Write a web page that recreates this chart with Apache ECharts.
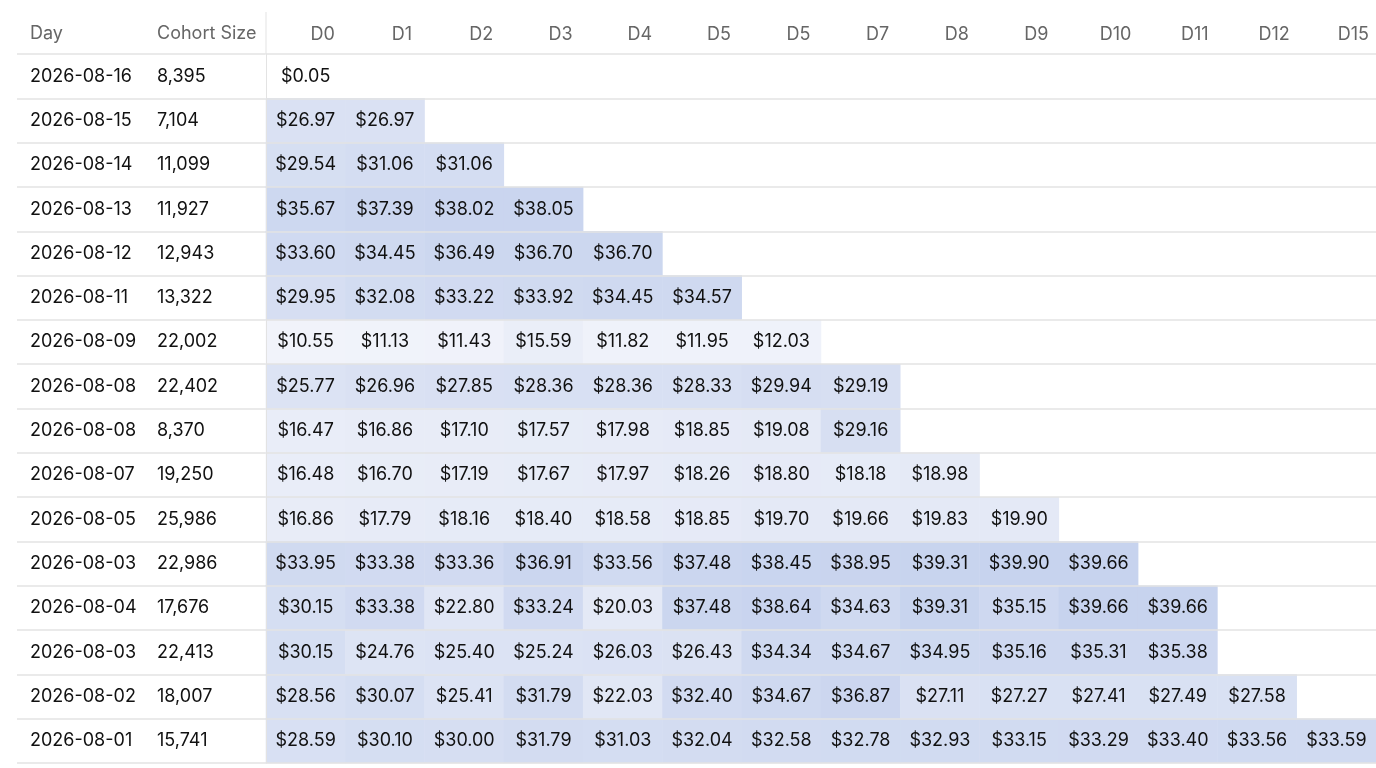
<!DOCTYPE html>
<html>
<head>
<meta charset="utf-8">
<script src="https://cdn.jsdelivr.net/npm/echarts@6/dist/echarts.min.js"></script>
<style>
  html, body { margin: 0; padding: 0; background: #fff; }
  #main { width: 1376px; height: 768px; }
</style>
</head>
<body>
<div id="main"></div>
<script>
var days = ['2026-08-16', '2026-08-15', '2026-08-14', '2026-08-13', '2026-08-12', '2026-08-11',
    '2026-08-09', '2026-08-08', '2026-08-08', '2026-08-07', '2026-08-05', '2026-08-03',
    '2026-08-04', '2026-08-03', '2026-08-02', '2026-08-01'];
var cohortSizes = ['8,395', '7,104', '11,099', '11,927', '12,943', '13,322', '22,002', '22,402',
    '8,370', '19,250', '25,986', '22,986', '17,676', '22,413', '18,007', '15,741'];
var dayCols = ['D0', 'D1', 'D2', 'D3', 'D4', 'D5', 'D5', 'D7', 'D8', 'D9', 'D10', 'D11', 'D12', 'D15'];

var rowValues = [
    [0.05],
    [26.97, 26.97],
    [29.54, 31.06, 31.06],
    [35.67, 37.39, 38.02, 38.05],
    [33.60, 34.45, 36.49, 36.70, 36.70],
    [29.95, 32.08, 33.22, 33.92, 34.45, 34.57],
    [10.55, 11.13, 11.43, 15.59, 11.82, 11.95, 12.03],
    [25.77, 26.96, 27.85, 28.36, 28.36, 28.33, 29.94, 29.19],
    [16.47, 16.86, 17.10, 17.57, 17.98, 18.85, 19.08, 29.16],
    [16.48, 16.70, 17.19, 17.67, 17.97, 18.26, 18.80, 18.18, 18.98],
    [16.86, 17.79, 18.16, 18.40, 18.58, 18.85, 19.70, 19.66, 19.83, 19.90],
    [33.95, 33.38, 33.36, 36.91, 33.56, 37.48, 38.45, 38.95, 39.31, 39.90, 39.66],
    [30.15, 33.38, 22.80, 33.24, 20.03, 37.48, 38.64, 34.63, 39.31, 35.15, 39.66, 39.66],
    [30.15, 24.76, 25.40, 25.24, 26.03, 26.43, 34.34, 34.67, 34.95, 35.16, 35.31, 35.38],
    [28.56, 30.07, 25.41, 31.79, 22.03, 32.40, 34.67, 36.87, 27.11, 27.27, 27.41, 27.49, 27.58],
    [28.59, 30.10, 30.00, 31.79, 31.03, 32.04, 32.58, 32.78, 32.93, 33.15, 33.29, 33.40, 33.56, 33.59]
];

var cells = [];
rowValues.forEach(function(row, r){
    row.forEach(function(v, c){
        cells.push([c, r, v]);
    });
});

var font = 'Inter, "Noto Sans", sans-serif';
var lineColor = '#e3e3e3';

var option = {
    backgroundColor: '#fff',
    textStyle: { fontFamily: font },
    grid: [
        { left: 266, right: 0, top: 54, bottom: 5 },
        { left: 17, width: 249, top: 54, bottom: 5 }
    ],
    xAxis: [
        {
            type: 'category',
            gridIndex: 0,
            position: 'top',
            data: dayCols,
            axisLine: { show: false },
            axisTick: { show: false },
            splitLine: { show: false },
            axisLabel: {
                color: '#666',
                fontSize: 18,
                margin: 10,
                padding: [0, 0, 0, 34],
                interval: 0
            }
        },
        {
            type: 'category',
            gridIndex: 1,
            data: ['x'],
            show: false
        }
    ],
    yAxis: [
        {
            type: 'category',
            gridIndex: 0,
            inverse: true,
            data: days,
            z: 5,
            axisLine: { show: true, lineStyle: { color: lineColor } },
            axisTick: { show: false },
            axisLabel: { show: false },
            splitLine: { show: true, interval: 0, lineStyle: { color: lineColor, width: 1.5 } }
        },
        {
            type: 'category',
            gridIndex: 1,
            inverse: true,
            data: days,
            axisLine: { show: false },
            axisTick: { show: false },
            splitLine: { show: true, interval: 0, lineStyle: { color: lineColor, width: 1.5 } },
            axisLabel: {
                inside: true,
                margin: 13,
                formatter: function(v, i){
                    return '{d|' + v + '}{c|' + cohortSizes[i] + '}';
                },
                rich: {
                    d: { width: 127, fontSize: 18, color: '#111', fontFamily: font },
                    c: { width: 100, fontSize: 18, color: '#111', fontFamily: font }
                }
            }
        }
    ],
    visualMap: {
        show: false,
        min: 0,
        max: 40,
        inRange: { color: ['#ffffff', '#e4e9f6', '#c7d3ee'] }
    },
    graphic: [
        { type: 'text', left: 30, top: 25, style: { text: 'Day', fontSize: 18, fill: '#666', fontFamily: font } },
        { type: 'text', left: 157, top: 25, style: { text: 'Cohort Size', fontSize: 18, fill: '#666', fontFamily: font } },
        { type: 'line', shape: { x1: 266, y1: 12, x2: 266, y2: 54 }, style: { stroke: lineColor, lineWidth: 1 } }
    ],
    series: [
        {
            type: 'heatmap',
            xAxisIndex: 0,
            yAxisIndex: 0,
            data: cells,
            label: {
                show: true,
                color: '#111',
                fontSize: 18,
                fontFamily: font,
                formatter: function(p){
                    return '$' + p.value[2].toFixed(2);
                }
            },
            itemStyle: { borderWidth: 0 },
            emphasis: { disabled: true }
        }
    ]
};

var myChart = echarts.init(document.getElementById('main'));
myChart.setOption(option);
</script>
</body>
</html>
